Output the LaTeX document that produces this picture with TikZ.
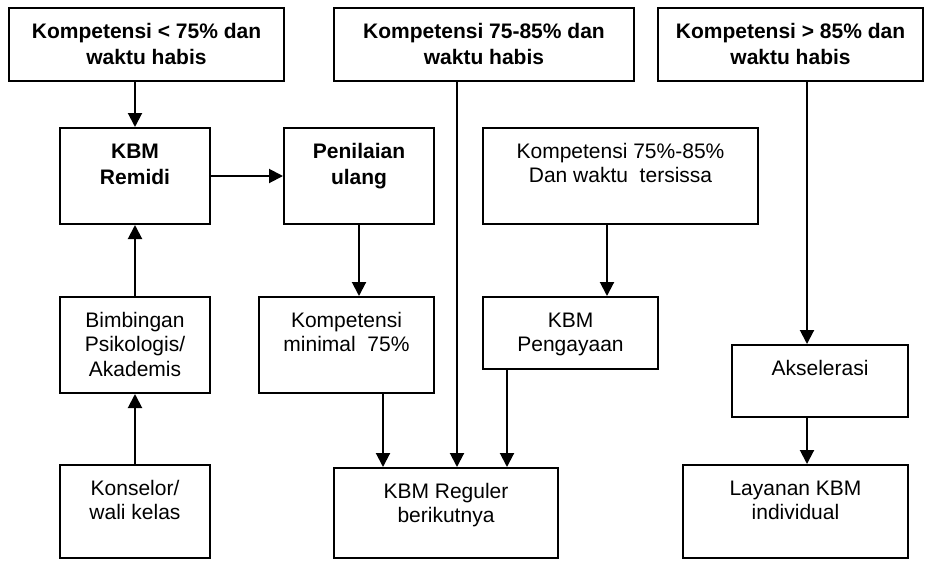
\documentclass[tikz,border=0pt]{standalone}
\usepackage{fontspec}
\setmainfont{Liberation Sans}
\usepackage{tikz}
\usetikzlibrary{arrows.meta}

\newcommand{\isikotak}[3]{\parbox[t][#2][t]{#1}{\centering\rule{0pt}{30pt}#3}}

\begin{document}
\begin{tikzpicture}[x=1pt,y=-1pt,
  kotak/.style={draw, line width=2pt, inner sep=0pt, anchor=north west,
    font=\fontsize{21}{24.5}\selectfont},
  tebal/.style={kotak, font=\fontsize{21}{26}\selectfont\bfseries},
  panah/.style={line width=2pt, -{Triangle[length=14pt,width=14pt]}}]
  \useasboundingbox (0,0) rectangle (925,560);

  \node[tebal] (kurang) at (8,7) {\isikotak{275pt}{73pt}{Kompetensi < 75\% dan\\waktu habis}};
  \node[tebal] (sedang) at (333,7) {\isikotak{300pt}{73pt}{Kompetensi 75-85\% dan\\waktu habis}};
  \node[tebal] (lebih) at (657,7) {\isikotak{265pt}{73pt}{Kompetensi > 85\% dan\\waktu habis}};

  \node[tebal] (remidi) at (59,127) {\isikotak{150pt}{96pt}{KBM\\Remidi}};
  \node[tebal] (penilaian) at (283,127) {\isikotak{150pt}{96pt}{Penilaian\\ulang}};
  \node[kotak] (sisa) at (482,127) {\isikotak{275pt}{96pt}{Kompetensi 75\%-85\%\\Dan waktu \ tersissa}};

  \node[kotak] (bimbingan) at (59,296) {\isikotak{150pt}{96pt}{Bimbingan\\Psikologis/\\Akademis}};
  \node[kotak] (minimal) at (258,296) {\isikotak{175pt}{96pt}{Kompetensi\\minimal \ 75\%}};
  \node[kotak] (pengayaan) at (482,296) {\isikotak{175pt}{72pt}{KBM\\Pengayaan}};
  \node[kotak] (akselerasi) at (731,344) {\isikotak{176pt}{72pt}{Akselerasi}};

  \node[kotak] (konselor) at (59,464) {\isikotak{150pt}{93pt}{Konselor/\\wali kelas}};
  \node[kotak] (reguler) at (333,467) {\isikotak{224pt}{90pt}{KBM Reguler\\berikutnya}};
  \node[kotak] (layanan) at (682,464) {\isikotak{225pt}{93pt}{Layanan KBM\\individual}};

  \coordinate (dariMinimal) at ([xshift=125pt]minimal.south west);
  \coordinate (dariSedang) at ([xshift=124pt]sedang.south west);
  \coordinate (dariSisa) at ([xshift=125pt]sisa.south west);
  \coordinate (dariPengayaan) at ([xshift=25pt]pengayaan.south west);
  \coordinate (dariLebih) at ([xshift=150pt]lebih.south west);
  \coordinate (dariAkselerasi) at ([xshift=76pt]akselerasi.south west);

  \draw[panah] (kurang.south -| remidi.north) -- (remidi.north);
  \draw[panah] (remidi.east) -- (remidi.east -| penilaian.west);
  \draw[panah] (bimbingan.north) -- (remidi.south);
  \draw[panah] (konselor.north) -- (bimbingan.south);
  \draw[panah] (penilaian.south) -- (penilaian.south |- minimal.north);
  \draw[panah] (dariMinimal) -- (dariMinimal |- reguler.north);
  \draw[panah] (dariSedang) -- (dariSedang |- reguler.north);
  \draw[panah] (dariSisa) -- (dariSisa |- pengayaan.north);
  \draw[panah] (dariPengayaan) -- (dariPengayaan |- reguler.north);
  \draw[panah] (dariLebih) -- (dariLebih |- akselerasi.north);
  \draw[panah] (dariAkselerasi) -- (dariAkselerasi |- layanan.north);
\end{tikzpicture}
\end{document}
